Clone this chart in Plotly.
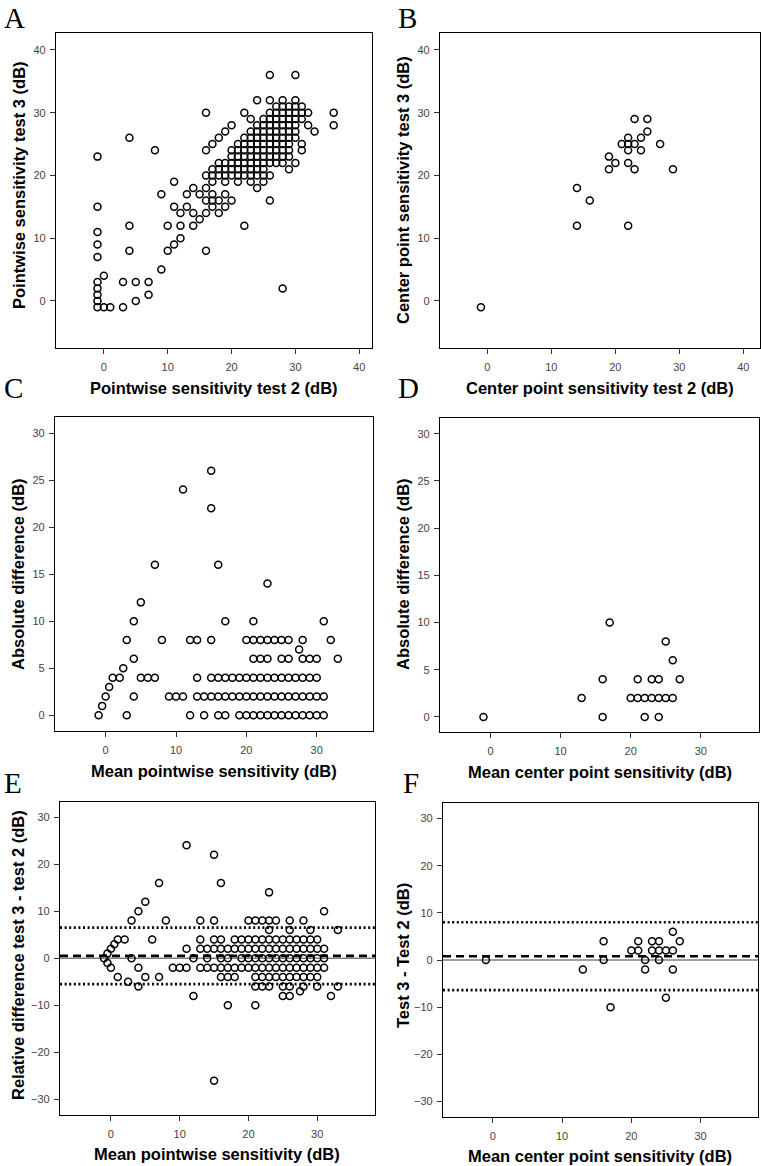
import plotly.graph_objects as go

# ---- data (dB values) ----
# A: pointwise sensitivity, test 2 (x) vs test 3 (y)
a_points = [
    (-1, 23), (-1, 15), (-1, 11), (-1, 9), (-1, 7), (-1, 3), (-1, 2), (-1, 1), (-1, 0),
    (-1, -1), (0, -1), (1, -1), (3, -1), (0, 4), (3, 3), (5, 3), (7, 3), (7, 1), (5, 0),
    (4, 26), (4, 12), (4, 8), (8, 24), (9, 5), (9, 17), (10, 12), (10, 8), (11, 9),
    (11, 19), (11, 15), (12, 10), (12, 12), (12, 14), (13, 17), (13, 15), (14, 14),
    (14, 12), (14, 18), (15, 13), (15, 17), (16, 30), (16, 8), (22, 12), (26, 16),
    (26, 36), (30, 36), (28, 2), (36, 30), (36, 28), (33, 27),
    (24, 32), (26, 32), (28, 32), (30, 32),
    (27, 31), (28, 31), (29, 31), (30, 31), (31, 31),
    (22, 30), (26, 30), (27, 30), (28, 30), (29, 30), (30, 30), (31, 30), (32, 30),
    (23, 29), (25, 29), (26, 29), (27, 29), (28, 29), (29, 29), (30, 29), (31, 29),
    (20, 28), (24, 28), (25, 28), (26, 28), (27, 28), (28, 28), (29, 28), (30, 28), (32, 28),
    (19, 27), (23, 27), (24, 27), (25, 27), (26, 27), (27, 27), (28, 27), (29, 27), (30, 27),
    (18, 26), (22, 26), (23, 26), (24, 26), (25, 26), (26, 26), (27, 26), (28, 26), (29, 26), (30, 26),
    (17, 25), (21, 25), (22, 25), (23, 25), (24, 25), (25, 25), (26, 25), (27, 25), (28, 25), (29, 25), (31, 25),
    (16, 24), (20, 24), (21, 24), (22, 24), (23, 24), (24, 24), (25, 24), (26, 24), (27, 24), (28, 24), (29, 24), (31, 24),
    (20, 23), (21, 23), (22, 23), (23, 23), (24, 23), (25, 23), (26, 23), (27, 23), (28, 23), (29, 23),
    (18, 22), (19, 22), (20, 22), (21, 22), (22, 22), (23, 22), (24, 22), (25, 22), (26, 22), (27, 22), (28, 22), (30, 22),
    (17, 21), (18, 21), (19, 21), (20, 21), (21, 21), (22, 21), (23, 21), (24, 21), (25, 21), (29, 21),
    (16, 20), (17, 20), (18, 20), (19, 20), (20, 20), (21, 20), (22, 20), (23, 20), (24, 20), (25, 20), (26, 20),
    (17, 19), (19, 19), (21, 19), (23, 19), (25, 19),
    (16, 18), (24, 18),
    (17, 17), (19, 17),
    (16, 16), (17, 16), (18, 16), (20, 16),
    (17, 15), (19, 15),
    (16, 14), (18, 14),
]

# B: center point sensitivity, test 2 (x) vs test 3 (y)
b_points = [
    (-1, -1), (14, 18), (14, 12), (16, 16), (22, 12), (19, 23), (19, 21), (20, 22),
    (21, 25), (22, 25), (23, 25), (22, 26), (22, 24), (22, 22), (23, 29), (23, 21),
    (24, 26), (24, 24), (25, 29), (25, 27), (27, 25), (29, 21),
]

# C: mean pointwise sensitivity (x) vs absolute difference (y)
c_points = [
    (15, 26), (11, 24), (15, 22), (7, 16), (16, 16), (23, 14), (5, 12), (4, 10),
    (17, 10), (21, 10), (31, 10),
    (3, 8), (8, 8), (12, 8), (13, 8), (15, 8), (20, 8), (21, 8), (22, 8), (23, 8),
    (24, 8), (25, 8), (26, 8), (28, 8), (32, 8),
    (27.5, 7),
    (4, 6), (21, 6), (22, 6), (23, 6), (25, 6), (26, 6), (28, 6), (29, 6), (30, 6), (33, 6),
    (2.5, 5),
    (1, 4), (2, 4), (5, 4), (6, 4), (7, 4), (13, 4), (15, 4), (16, 4), (17, 4), (18, 4),
    (19, 4), (20, 4), (21, 4), (22, 4), (23, 4), (24, 4), (25, 4), (26, 4), (27, 4),
    (28, 4), (29, 4), (30, 4),
    (0.5, 3),
    (0, 2), (4, 2), (9, 2), (10, 2), (11, 2), (13, 2), (14, 2), (15, 2), (16, 2), (17, 2),
    (18, 2), (19, 2), (20, 2), (21, 2), (22, 2), (23, 2), (24, 2), (25, 2), (26, 2),
    (27, 2), (28, 2), (29, 2), (30, 2), (31, 2),
    (-0.5, 1),
    (-1, 0), (3, 0), (12, 0), (14, 0), (16, 0), (17, 0), (19, 0), (20, 0), (21, 0),
    (22, 0), (23, 0), (24, 0), (25, 0), (26, 0), (27, 0), (28, 0), (29, 0), (30, 0), (31, 0),
]

# D: mean center point sensitivity (x) vs absolute difference (y)
d_points = [
    (-1, 0), (17, 10), (25, 8), (26, 6), (16, 4), (21, 4), (23, 4), (24, 4), (27, 4),
    (13, 2), (20, 2), (21, 2), (22, 2), (23, 2), (24, 2), (25, 2), (26, 2),
    (16, 0), (22, 0), (24, 0),
]

# E: mean pointwise sensitivity (x) vs test 3 - test 2 (y)
e_points = [
    (11, 24), (15, 22), (7, 16), (16, 16), (23, 14), (5, 12), (4, 10), (31, 10),
    (3, 8), (8, 8), (13, 8), (15, 8), (20, 8), (21, 8), (22, 8), (23, 8), (24, 8), (26, 8), (28, 8),
    (23, 6), (26, 6), (29, 6), (33, 6),
    (1, 4), (2, 4), (6, 4), (13, 4), (15, 4), (16, 4), (18, 4), (19, 4), (20, 4), (21, 4),
    (22, 4), (23, 4), (24, 4), (25, 4), (26, 4), (27, 4), (28, 4), (29, 4), (30, 4),
    (0.5, 3),
    (0, 2), (11, 2), (13, 2), (14, 2), (15, 2), (16, 2), (17, 2), (18, 2), (19, 2), (20, 2),
    (21, 2), (22, 2), (23, 2), (24, 2), (25, 2), (26, 2), (27, 2), (28, 2), (29, 2), (30, 2), (31, 2),
    (-0.5, 1),
    (-1, 0), (3, 0), (12, 0), (14, 0), (16, 0), (17, 0), (19, 0), (20, 0), (21, 0), (22, 0),
    (23, 0), (24, 0), (25, 0), (26, 0), (27, 0), (28, 0), (29, 0), (30, 0), (31, 0),
    (-0.5, -1),
    (0, -2), (4, -2), (9, -2), (10, -2), (11, -2), (13, -2), (14, -2), (15, -2), (16, -2),
    (17, -2), (18, -2), (19, -2), (20, -2), (21, -2), (22, -2), (23, -2), (24, -2), (25, -2),
    (26, -2), (27, -2), (28, -2), (29, -2), (30, -2), (31, -2),
    (1, -4), (5, -4), (7, -4), (16, -4), (17, -4), (18, -4), (21, -4), (22, -4), (23, -4),
    (24, -4), (25, -4), (26, -4), (27, -4), (28, -4), (29, -4), (30, -4),
    (2.5, -5),
    (4, -6), (21, -6), (22, -6), (23, -6), (25, -6), (26, -6), (28, -6), (30, -6), (33, -6),
    (27.5, -7),
    (12, -8), (25, -8), (26, -8), (32, -8),
    (17, -10), (21, -10),
    (15, -26),
]

# F: mean center point sensitivity (x) vs test 3 - test 2 (y)
f_points = [
    (-1, 0), (13, -2), (16, 4), (16, 0), (17, -10), (20, 2), (21, 4), (21, 2), (22, 0),
    (22, -2), (23, 4), (23, 2), (24, 4), (24, 2), (24, 0), (25, 2), (25, -8), (26, 6),
    (26, 2), (26, -2), (27, 4),
]

# Bland-Altman lines: mean difference, upper and lower limits of agreement
e_mean, e_upper, e_lower = 0.5, 6.5, -5.5
f_mean, f_upper, f_lower = 0.8, 8.0, -6.4

panel_letters = ["A", "B", "C", "D", "E", "F"]
x_titles = [
    "Pointwise sensitivity test 2 (dB)",
    "Center point sensitivity test 2 (dB)",
    "Mean pointwise sensitivity (dB)",
    "Mean center point sensitivity (dB)",
    "Mean pointwise sensitivity (dB)",
    "Mean center point sensitivity (dB)",
]
y_titles = [
    "Pointwise sensitivity test 3 (dB)",
    "Center point sensitivity test 3 (dB)",
    "Absolute difference (dB)",
    "Absolute difference (dB)",
    "Relative difference test 3 - test 2 (dB)",
    "Test 3 - Test 2 (dB)",
]

# ---- layout (pixel geometry of the 761x1166 page) ----
W, H = 761, 1166
# frame boxes: left, top, right, bottom
frames = [
    (56, 33, 372, 348), (440, 33, 760, 348),
    (55, 417, 373, 731), (440, 418, 759, 732),
    (60, 802, 375, 1115), (443, 803, 758, 1117),
]
x_ranges = [(-7.5, 42.0), (-7.4, 42.6), (-7.2, 38.0), (-7.2, 38.3), (-7.4, 38.4), (-7.2, 38.3)]
y_ranges = [(-7.5, 42.7), (-7.5, 42.7), (-1.67, 31.7), (-1.6, 31.67), (-33.3, 33.2), (-33.3, 33.3)]
x_ticks = [[0, 10, 20, 30, 40]] * 2 + [[0, 10, 20, 30]] * 4
y_ticks = [[0, 10, 20, 30, 40]] * 2 + [[0, 5, 10, 15, 20, 25, 30]] * 2 + [[-30, -20, -10, 0, 10, 20, 30]] * 2
letter_pos = [(2, 0), (396, 0), (2, 370), (396, 370), (2, 765), (401, 765)]
xtitle_pos = [(214, 388), (600, 388), (214, 771), (600, 772), (217, 1154), (600, 1156)]
ytitle_pos = [(19, 185), (403, 190), (18, 574), (403, 574), (18, 955), (403, 956)]


def px(x):
    return x / W


def py(y):
    return 1 - y / H


fig = go.Figure()
all_points = [a_points, b_points, c_points, d_points, e_points, f_points]

axis_font = dict(family="Liberation Sans, Arial", size=11, color="#444444")
title_font = dict(family="Liberation Sans, Arial", size=16.5, color="black", weight="bold")

layout = dict(
    width=W, height=H,
    margin=dict(l=0, r=0, t=0, b=0),
    paper_bgcolor="white", plot_bgcolor="white",
    showlegend=False,
)
annotations = []
shapes = []

for i, pts in enumerate(all_points):
    n = "" if i == 0 else str(i + 1)
    l, t, r, b = frames[i]
    fig.add_trace(go.Scatter(
        x=[p[0] for p in pts], y=[p[1] for p in pts],
        mode="markers", xaxis="x" + n, yaxis="y" + n,
        marker=dict(symbol="circle-open", size=7, color="black", line=dict(width=1.5)),
        hoverinfo="x+y",
    ))
    common = dict(
        showgrid=False, zeroline=False, showline=True, mirror=True,
        linecolor="black", linewidth=1.3, ticks="outside", ticklen=5,
        tickwidth=1, tickcolor="#333333", tickfont=axis_font,
    )
    layout["xaxis" + n] = dict(
        common, domain=[px(l), px(r)], range=list(x_ranges[i]),
        tickvals=x_ticks[i], anchor="y" + n, ticklabelstandoff=4,
    )
    layout["yaxis" + n] = dict(
        common, domain=[py(b), py(t)], range=list(y_ranges[i]),
        tickvals=y_ticks[i], anchor="x" + n, ticklabelstandoff=2,
    )
    lx, ly = letter_pos[i]
    annotations.append(dict(
        text=panel_letters[i], xref="paper", yref="paper", x=px(lx), y=py(ly),
        xanchor="left", yanchor="top", showarrow=False,
        font=dict(family="Liberation Serif, Times New Roman", size=29, color="black"),
    ))
    tx, ty = xtitle_pos[i]
    annotations.append(dict(
        text=x_titles[i], xref="paper", yref="paper", x=px(tx), y=py(ty),
        xanchor="center", yanchor="middle", showarrow=False, font=title_font,
    ))
    yx, yy = ytitle_pos[i]
    annotations.append(dict(
        text=y_titles[i], xref="paper", yref="paper", x=px(yx), y=py(yy),
        xanchor="center", yanchor="middle", showarrow=False, textangle=-90,
        font=title_font,
    ))

# reference lines on the Bland-Altman panels
for n, (m, up, lo) in (("5", (e_mean, e_upper, e_lower)), ("6", (f_mean, f_upper, f_lower))):
    xref = "x" + n + " domain"
    yref = "y" + n
    shapes.append(dict(type="line", xref=xref, yref=yref, x0=0, x1=1, y0=0, y1=0,
                       line=dict(color="#7f7f7f", width=1.6), layer="below"))
    shapes.append(dict(type="line", xref=xref, yref=yref, x0=0, x1=1, y0=m, y1=m,
                       line=dict(color="black", width=2.6, dash="8px,5px"), layer="below"))
    for v in (up, lo):
        shapes.append(dict(type="line", xref=xref, yref=yref, x0=0, x1=1, y0=v, y1=v,
                           line=dict(color="black", width=2.6, dash="2px,2.6px"), layer="below"))

layout["annotations"] = annotations
layout["shapes"] = shapes
fig.update_layout(**layout)

# the page's default body margin would shift the figure by 8px
fig.write_html(
    "out.html",
    config={"displayModeBar": False},
    post_script="document.body.style.margin='0';document.body.style.overflow='hidden';",
)
